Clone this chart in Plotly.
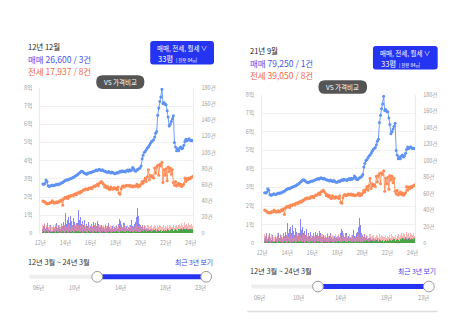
import pandas as pd
import plotly.graph_objects as go

W, H = 476, 333
FONT = "Noto Sans CJK KR"

# ---------------- data (monthly, 2012-03 .. 2024-03) ----------------
months = pd.date_range("2012-03-01", "2024-03-01", freq="MS") + pd.Timedelta(days=14)

sale_price = [  # 매매 (억)
    2.72, 2.70, 2.74, 2.93, 2.85, 2.62, 2.58, 2.60, 2.63, 2.66,
    2.62, 2.64, 2.66, 2.70, 2.68, 2.72, 2.70, 2.74, 2.78, 2.80, 2.85, 2.90,
    2.92, 2.95, 2.93, 2.98, 3.00, 3.02, 3.05, 3.08, 3.10, 3.15, 3.18, 3.22,
    3.28, 3.32, 3.38, 3.42, 3.40, 3.35, 3.30, 3.28, 3.25, 3.30, 3.32, 3.35,
    3.33, 3.38, 3.40, 3.42, 3.45, 3.48, 3.45, 3.50, 3.52, 3.48, 3.46, 3.50,
    3.45, 3.42, 3.40, 3.38, 3.35, 3.40, 3.36, 3.32, 3.38, 3.35, 3.30, 3.28,
    3.30, 3.35, 3.32, 3.38, 3.42, 3.38, 3.45, 3.40, 3.42, 3.38, 3.45, 3.48,
    3.42, 3.50, 3.45, 3.48, 3.62, 3.55, 3.45, 3.42, 3.48, 3.52, 3.55, 3.60,
    3.70, 4.10, 4.30, 4.45, 4.50, 4.60, 4.70, 4.75, 4.85, 4.95, 5.05, 5.10,
    5.15, 5.30, 5.50, 5.60, 6.50, 6.90, 7.25, 7.50, 7.925, 7.15, 7.20, 7.10,
    7.08, 6.75, 6.40, 5.90, 6.00, 6.15, 6.30, 6.47, 5.00, 4.75, 4.55, 4.65,
    4.55, 4.70, 4.75, 4.65, 4.70, 4.85, 5.05, 5.18, 5.10, 5.15, 5.20, 5.12,
    5.10, 5.12, 5.10,
]
jeonse_price = [  # 전세 (억)
    1.78, 1.75, 1.72, 1.65, 1.62, 1.66, 1.64, 1.70, 1.68, 1.79,
    1.72, 1.66, 1.70, 1.74, 1.68, 1.72, 1.80, 1.76, 1.85, 1.55, 1.90, 1.98,
    1.95, 2.00, 1.92, 2.05, 2.02, 2.08, 2.10, 2.06, 2.15, 2.18, 2.12, 2.22,
    2.25, 2.20, 2.30, 2.28, 2.35, 2.40, 2.38, 2.45, 2.42, 2.40, 2.50, 2.48,
    2.52, 2.45, 2.55, 2.60, 2.58, 2.65, 2.70, 2.62, 2.75, 2.80, 2.85, 2.78,
    2.70, 2.55, 2.62, 2.50, 2.58, 2.45, 2.40, 2.55, 2.48, 2.42, 2.52, 2.45,
    2.48, 2.40, 2.55, 2.20, 2.15, 2.45, 2.58, 2.62, 2.55, 2.60, 2.65, 2.62,
    2.60, 2.65, 2.58, 2.62, 2.55, 2.60, 2.58, 2.62, 2.70, 2.55, 2.65, 2.60,
    2.72, 2.85, 2.75, 2.90, 3.05, 2.85, 3.10, 3.50, 2.95, 3.20, 3.10, 3.15,
    3.05, 3.60, 3.30, 3.65, 3.75, 3.20, 3.80, 3.70, 3.905, 2.80, 3.50, 3.20,
    3.55, 2.90, 3.65, 3.40, 3.60, 3.25, 3.50, 2.80, 2.65, 2.85, 2.60, 2.70,
    2.75, 2.62, 2.70, 2.58, 2.65, 2.72, 3.05, 2.85, 3.02, 2.95, 3.05, 3.00,
    3.08, 3.10, 3.15,
]
sale_count = [  # 매매 건수
    6, 9, 12, 5, 8, 13, 6, 4, 10, 3,
    8, 5, 9, 13, 7, 10, 8, 5, 12, 9, 14, 10,
    25, 12, 17, 20, 13, 22, 15, 10, 19, 14, 9, 13,
    29, 16, 20, 12, 15, 10, 17, 8, 12, 9, 14, 7,
    9, 12, 8, 14, 10, 13, 9, 15, 12, 8, 10, 7,
    8, 6, 11, 7, 9, 13, 8, 5, 7, 9, 6, 8,
    7, 9, 6, 12, 18, 15, 10, 8, 13, 7, 9, 6,
    8, 7, 10, 16, 9, 8, 12, 14, 20, 31, 22, 12,
    10, 8, 11, 6, 9, 5, 7, 6, 4, 5, 6, 4,
    5, 4, 6, 3, 5, 4, 3, 2, 1, 3, 2, 2,
    2, 3, 2, 2, 3, 2, 2, 3, 2, 3, 2, 3,
    4, 6, 3, 7, 5, 8, 6, 5, 7, 6, 5, 6,
    5, 6, 4,
]
jeonse_count = [  # 전세 건수
    11, 9, 13, 7, 10, 12, 8, 11, 9, 8,
    10, 8, 12, 9, 7, 11, 10, 8, 13, 9, 7, 10,
    11, 8, 9, 12, 10, 7, 11, 9, 8, 10, 12, 9,
    10, 7, 11, 9, 13, 8, 10, 9, 11, 7, 9, 10,
    8, 11, 9, 7, 10, 12, 9, 8, 10, 11, 7, 9,
    10, 8, 12, 9, 7, 11, 8, 10, 9, 7, 11, 8,
    9, 11, 8, 10, 7, 9, 12, 8, 10, 9, 7, 11,
    8, 10, 9, 11, 7, 9, 8, 10, 12, 9, 8, 10,
    9, 7, 11, 8, 10, 9, 7, 11, 8, 9, 10, 7,
    8, 10, 9, 7, 11, 8, 10, 9, 8, 8, 10, 7,
    9, 8, 10, 7, 11, 9, 8, 10, 7, 9, 11, 8,
    10, 12, 9, 13, 11, 8, 14, 10, 12, 9, 13, 11,
    10, 12, 9,
]
rent_count = [  # 월세 건수
    2, 3, 1, 2, 3, 2, 1, 3, 2, 2,
    3, 2, 1, 3, 2, 2, 3, 1, 2, 3, 2, 1,
    2, 3, 2, 1, 3, 2, 2, 3, 1, 2, 3, 2,
    3, 2, 2, 3, 1, 2, 3, 2, 2, 1, 3, 2,
    2, 3, 1, 2, 3, 2, 2, 3, 2, 1, 3, 2,
    3, 2, 2, 1, 3, 2, 3, 2, 1, 2, 3, 2,
    2, 3, 2, 2, 1, 3, 2, 3, 2, 2, 3, 1,
    3, 2, 2, 3, 2, 1, 3, 2, 2, 3, 2, 2,
    2, 3, 3, 2, 4, 3, 2, 3, 4, 3, 2, 3,
    3, 4, 3, 2, 4, 3, 3, 4, 2, 3, 4, 3,
    4, 3, 5, 4, 3, 4, 5, 3, 4, 5, 4, 3,
    5, 4, 6, 5, 4, 6, 5, 4, 5, 6, 4, 5,
    5, 4, 6,
]

price_ticks = [0, 1, 2, 3, 4, 5, 6, 7, 8]
price_labels = ["0", "1억", "2억", "3억", "4억", "5억", "6억", "7억", "8억"]
count_ticks = [0, 20, 40, 60, 80, 100, 120, 140, 160, 180]
count_labels = ["0", "20건", "40건", "60건", "80건", "100건", "120건", "140건", "160건", "180건"]
slider_labels = ["06년", "10년", "14년", "18년", "23년"]

panels = [
    dict(title="12년 12월", sale="매매 26,600 / 3건", jeonse="전세 17,937 / 8건"),
    dict(title="21년 9월", sale="매매 79,250 / 1건", jeonse="전세 39,050 / 8건"),
]

# ---------------- layout geometry (pixels) ----------------
def X(px):
    return px / W

def Y(py):
    return 1 - py / H

geo = [
    dict(plot=(35, 86, 191, 235), ty=44, box=(147, 38, 212, 62), vs=(92, 73, 141, 87),
         bottom_y=264, right_txt=212.7, sl_y=279.5, sl=(24, 93, 204), lab_y=291.5,
         lab_x=[33, 70, 117, 163, 198], txt_x=20.5),
    dict(plot=(261, 93, 417, 245), ty=47.5, box=(374, 43, 440, 67), vs=(318.5, 78, 368, 92),
         bottom_y=274, right_txt=440, sl_y=289.5, sl=(250, 318, 431), lab_y=301,
         lab_x=[258, 298, 341, 388, 426], txt_x=246.5),
]

BLUE_LINE = "#5f92f5"
ORANGE_LINE = "#ff8a55"
BOX_BLUE = "#2434f0"

fig = go.Figure()

for i, g in enumerate(geo):
    xa = "x" if i == 0 else "x2"
    ya_p = "y" if i == 0 else "y3"
    ya_c = "y2" if i == 0 else "y4"
    for vals, col in [(sale_count, "rgba(105,105,250,0.8)"),
                      (jeonse_count, "rgba(245,135,135,0.6)"),
                      (rent_count, "rgba(60,165,60,0.9)")]:
        fig.add_trace(go.Bar(x=months, y=vals, xaxis=xa, yaxis=ya_c, marker_color=col,
                             marker_line_width=0, width=31 * 86400000, showlegend=False))
    fig.add_trace(go.Scatter(x=months, y=jeonse_price, xaxis=xa, yaxis=ya_p, mode="lines+markers",
                             line=dict(color=ORANGE_LINE, width=0.9),
                             marker=dict(size=3, color=ORANGE_LINE), showlegend=False))
    fig.add_trace(go.Scatter(x=months, y=sale_price, xaxis=xa, yaxis=ya_p, mode="lines+markers",
                             line=dict(color=BLUE_LINE, width=0.9),
                             marker=dict(size=3, color=BLUE_LINE), showlegend=False))

def tf():
    return dict(family=FONT, size=5.5, color="#a0a0a0")

def xaxis_cfg(g, anchor):
    x0, y0, x1, y1 = g["plot"]
    return dict(domain=[X(x0), X(x1)], anchor=anchor, type="date",
                range=["2012-01-01", "2024-03-20"], tick0="2012-01-01", dtick="M24",
                tickformat="%y년", showgrid=False, zeroline=False, showline=False,
                ticks="outside", ticklen=4, tickcolor="rgba(0,0,0,0)", tickfont=tf())

def ypri_cfg(g, anchor):
    x0, y0, x1, y1 = g["plot"]
    return dict(domain=[Y(y1), Y(y0)], anchor=anchor, range=[0, 8], tickvals=price_ticks,
                ticktext=price_labels, showgrid=True, gridcolor="#f1f1f1", gridwidth=1,
                zeroline=False, showline=True, linecolor="#ececec", linewidth=1,
                ticks="outside", ticklen=6, tickcolor="rgba(0,0,0,0)", tickfont=tf())

def ycnt_cfg(g, anchor, overlay):
    return dict(overlaying=overlay, anchor=anchor, side="right", range=[0, 180],
                tickvals=count_ticks, ticktext=count_labels, showgrid=False, zeroline=False,
                showline=True, linecolor="#ececec", linewidth=1, color="#a0a0a0",
                ticks="outside", ticklen=6, tickcolor="rgba(0,0,0,0)", tickfont=tf())

fig.update_layout(
    width=W, height=H, margin=dict(l=0, r=0, t=0, b=0),
    paper_bgcolor="white", plot_bgcolor="white", barmode="overlay", bargap=0,
    font=dict(family=FONT), hovermode=False,
    xaxis=xaxis_cfg(geo[0], "y"), yaxis=ypri_cfg(geo[0], "x"), yaxis2=ycnt_cfg(geo[0], "x", "y"),
    xaxis2=xaxis_cfg(geo[1], "y3"), yaxis3=ypri_cfg(geo[1], "x2"), yaxis4=ycnt_cfg(geo[1], "x2", "y3"),
)

def rrect(x0, y0, x1, y1, r):
    return (f"M {X(x0 + r)},{Y(y0)} L {X(x1 - r)},{Y(y0)} Q {X(x1)},{Y(y0)} {X(x1)},{Y(y0 + r)} "
            f"L {X(x1)},{Y(y1 - r)} Q {X(x1)},{Y(y1)} {X(x1 - r)},{Y(y1)} "
            f"L {X(x0 + r)},{Y(y1)} Q {X(x0)},{Y(y1)} {X(x0)},{Y(y1 - r)} "
            f"L {X(x0)},{Y(y0 + r)} Q {X(x0)},{Y(y0)} {X(x0 + r)},{Y(y0)} Z")

shapes, annos = [], []

def text(px, py, s, size, color, xanchor="left"):
    annos.append(dict(x=X(px), y=Y(py), xref="paper", yref="paper", text=s, showarrow=False,
                      xanchor=xanchor, yanchor="middle",
                      font=dict(family=FONT, size=size, color=color)))

for p, g in zip(panels, geo):
    tx = g["txt_x"]
    ty = g["ty"]
    text(tx, ty, p["title"], 7.5, "#222222")
    text(tx, ty + 12.5, p["sale"], 8.5, "#4656ea")
    text(tx, ty + 25, p["jeonse"], 8.5, "#f2683f")
    bx0, by0, bx1, by1 = g["box"]
    shapes.append(dict(type="path", path=rrect(bx0, by0, bx1, by1, 3), xref="paper", yref="paper",
                       fillcolor=BOX_BLUE, line=dict(width=0)))
    text((bx0 + bx1) / 2, by0 + 7, "매매, 전세, 월세 ∨", 6.5, "white", xanchor="center")
    text(bx0 + 6, by0 + 18, "33평 <span style='font-size:4.5px'> | 전용 84㎡</span>", 7.5, "white")
    vx0, vy0, vx1, vy1 = g["vs"]
    shapes.append(dict(type="path", path=rrect(vx0, vy0, vx1, vy1, 6.5), xref="paper", yref="paper",
                       fillcolor="#555555", line=dict(width=0)))
    text((vx0 + vx1) / 2, (vy0 + vy1) / 2, "VS 가격비교", 6.5, "white", xanchor="center")
    text(tx, g["bottom_y"], "12년 3월 ~ 24년 3월", 7.3, "#333333")
    text(g["right_txt"], g["bottom_y"], "최근 3년 보기", 6.8, "#3a46ee", xanchor="right")
    s0, s1, s2 = g["sl"]
    sy = g["sl_y"]
    shapes.append(dict(type="line", xref="paper", yref="paper", x0=X(s0), x1=X(s1), y0=Y(sy), y1=Y(sy),
                       line=dict(color="#eeeeee", width=4)))
    shapes.append(dict(type="line", xref="paper", yref="paper", x0=X(s1), x1=X(s2), y0=Y(sy), y1=Y(sy),
                       line=dict(color=BOX_BLUE, width=5)))
    for cx in (s1, s2):
        r = 5.5
        shapes.append(dict(type="circle", xref="paper", yref="paper", x0=X(cx - r), x1=X(cx + r),
                           y0=Y(sy + r), y1=Y(sy - r), fillcolor="white",
                           line=dict(color="#999999", width=1)))
    for lx, lab in zip(g["lab_x"], slider_labels):
        text(lx, g["lab_y"], lab, 5.5, "#999999", xanchor="center")

shapes.append(dict(type="line", xref="paper", yref="paper", x0=X(246), x1=X(440), y0=Y(315), y1=Y(315),
                   line=dict(color="#dddddd", width=1.5)))

fig.update_layout(shapes=shapes, annotations=annos)
fig.write_html("out.html")
